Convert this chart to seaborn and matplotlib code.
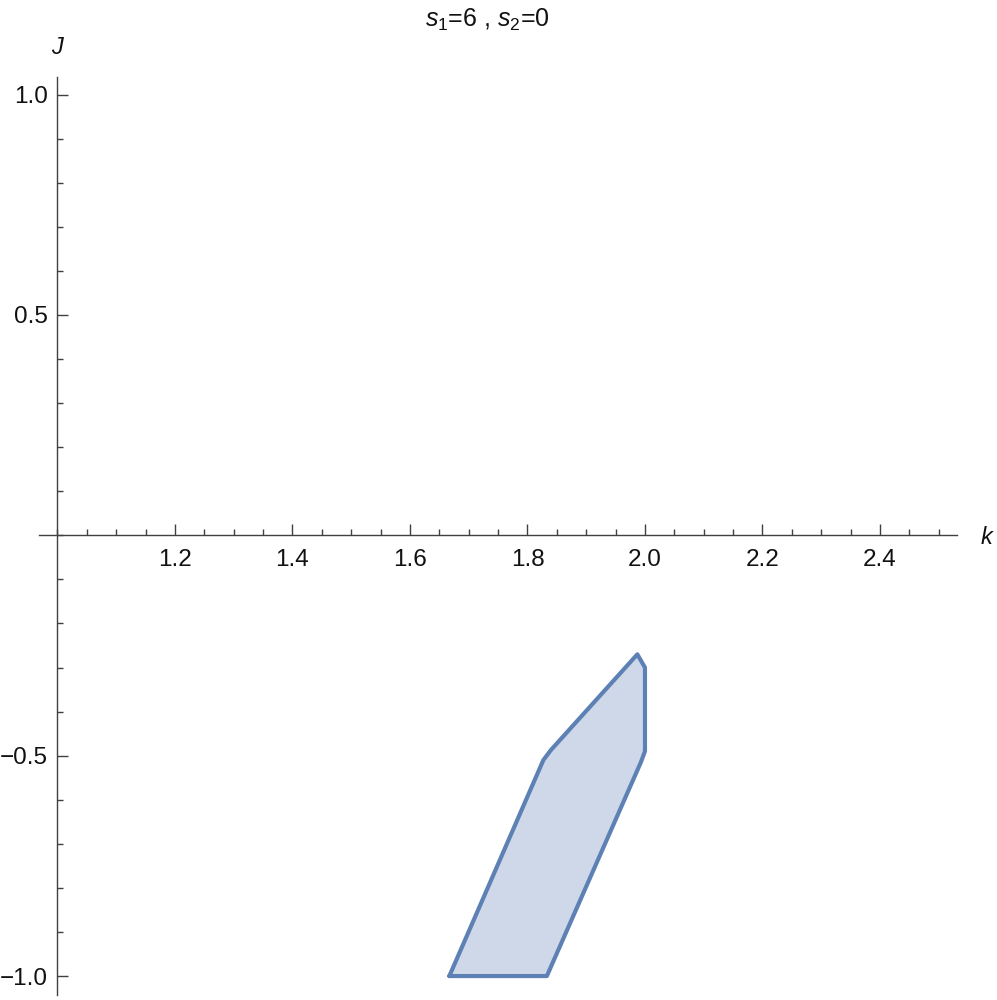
import matplotlib
matplotlib.use("Agg")
import matplotlib.pyplot as plt
import seaborn as sns
import pandas as pd
from matplotlib.ticker import MultipleLocator

# Region boundary (k, J)
k_vals = [1.667, 1.833, 1.993, 2.000, 2.000, 1.987, 1.840, 1.827, 1.667]
J_vals = [-1.000, -1.000, -0.515, -0.490, -0.300, -0.270, -0.487, -0.510, -1.000]

x_major = [1.2, 1.4, 1.6, 1.8, 2.0, 2.2, 2.4]
x_labels = ["1.2", "1.4", "1.6", "1.8", "2.0", "2.2", "2.4"]
y_major = [-1.0, -0.5, 0.5, 1.0]
y_labels = ["\u22121.0", "\u22120.5", "0.5", "1.0"]

title_text = r"$s_1$=6 , $s_2$=0"

sns.set_theme(style="white")
plt.rcParams["font.family"] = ["Liberation Sans", "DejaVu Sans"]
plt.rcParams["mathtext.fontset"] = "custom"
plt.rcParams["mathtext.rm"] = "Liberation Sans"
plt.rcParams["mathtext.it"] = "Liberation Sans:italic"

edge = "#5E81B5"
axis_col = "#404040"
text_col = "#111111"

fig = plt.figure(figsize=(9.97, 10.0), dpi=100)
ax = fig.add_axes([0.0388, 0.005, 0.921, 0.918])

df = pd.DataFrame({"k": k_vals, "J": J_vals})
ax.fill(df["k"], df["J"], facecolor=edge, alpha=0.3, edgecolor="none", zorder=2)
sns.lineplot(data=df, x="k", y="J", sort=False, estimator=None, color=edge,
             linewidth=3.0, ax=ax, zorder=3, solid_joinstyle="round")

ax.set_xlim(0.968, 2.531)
ax.set_ylim(-1.043, 1.040)

for s in ["top", "right"]:
    ax.spines[s].set_visible(False)
ax.spines["left"].set_position(("data", 1.0))
ax.spines["bottom"].set_position(("data", 0.0))
for s in ["left", "bottom"]:
    ax.spines[s].set_color(axis_col)
    ax.spines[s].set_linewidth(1.0)

ax.set_xticks(x_major)
ax.set_xticklabels(x_labels)
ax.set_yticks(y_major)
ax.set_yticklabels(y_labels)
ax.xaxis.set_minor_locator(MultipleLocator(0.05))
ax.yaxis.set_minor_locator(MultipleLocator(0.1))

ax.tick_params(axis="x", which="both", bottom=True, top=False)
ax.tick_params(axis="y", which="both", left=True, right=False)
ax.tick_params(axis="x", which="major", direction="in", length=8, width=1.0,
               color=axis_col, labelsize=17.5, pad=10, labelcolor=text_col)
ax.tick_params(axis="x", which="minor", direction="in", length=4.5, width=1.0, color=axis_col)
ax.tick_params(axis="y", which="major", direction="in", length=8, width=1.0,
               color=axis_col, labelsize=17.5, pad=7, labelcolor=text_col)
ax.tick_params(axis="y", which="minor", direction="in", length=4.5, width=1.0, color=axis_col)

ax.set_xlabel("")
ax.set_ylabel("")
ax.grid(False)

fig.text(57 / 997, 1 - 48 / 1000, "J", fontsize=17, style="italic", ha="center", va="center", color=text_col)
fig.text(987 / 997, 1 - 537 / 1000, "k", fontsize=17, style="italic", ha="center", va="center", color=text_col)
fig.text(487 / 997, 1 - 20 / 1000, title_text, fontsize=18, ha="center", va="center", color=text_col)

fig.savefig("out.png", dpi=100, facecolor="white")
